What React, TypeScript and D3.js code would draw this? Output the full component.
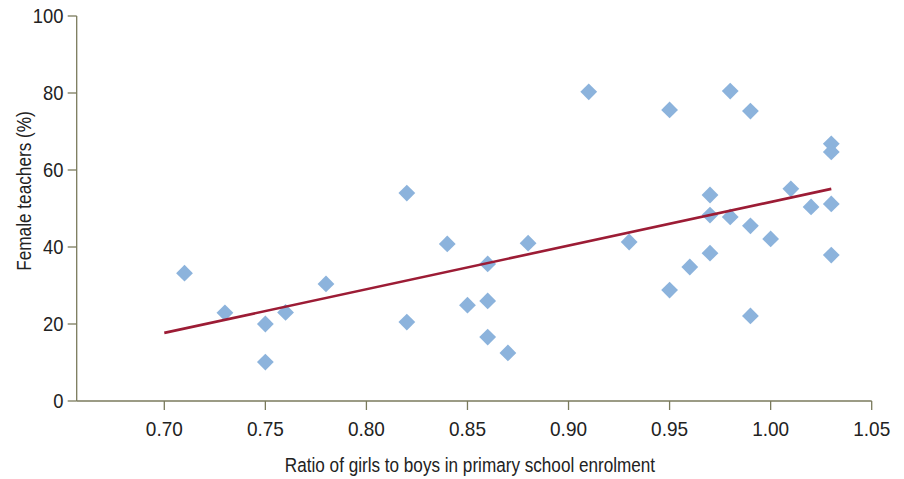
import React from "react";
import * as d3 from "d3";

const ratioGirlsBoys = [0.71, 0.73, 0.75, 0.75, 0.76, 0.78, 0.82, 0.82, 0.84, 0.85, 0.86, 0.86, 0.86, 0.87, 0.88, 0.91, 0.93, 0.95, 0.95, 0.96, 0.97, 0.97, 0.97, 0.98, 0.98, 0.99, 0.99, 0.99, 1.0, 1.01, 1.02, 1.03, 1.03, 1.03, 1.03];
const femaleTeachers = [33.2, 22.9, 20.0, 10.1, 23.0, 30.4, 54.0, 20.5, 40.8, 24.9, 35.6, 26.0, 16.6, 12.5, 41.0, 80.3, 41.3, 75.6, 28.8, 34.8, 53.5, 48.3, 38.4, 80.5, 47.8, 75.3, 45.5, 22.1, 42.1, 55.1, 50.4, 66.8, 64.7, 51.2, 37.9];
const trendX = [0.7, 1.03];
const trendY = [17.7, 55.1];
const xTicks = [0.7, 0.75, 0.8, 0.85, 0.9, 0.95, 1.0, 1.05];
const yTicks = [0, 20, 40, 60, 80, 100];

const FONT = "'Liberation Sans', Arial, sans-serif";
const AXIS = "#7a7a5c";

export default function App() {
  const W = 904, H = 479;
  const x = d3.scaleLinear().domain([0.7, 1.05]).range([164.3, 871.7]);
  const y = d3.scaleLinear().domain([0, 100]).range([401, 16]);
  const x0 = 76.7;
  const diamond = d3.symbol().type(d3.symbolDiamond2).size(180)() as string;
  const line = d3.line<number>().x((d, i) => x(trendX[i])).y((d) => y(d));

  return (
    <svg width={W} height={H} style={{ position: "absolute", left: 0, top: 0, background: "#fff" }} fontFamily={FONT}>
      <line x1={x0} x2={x0} y1={y(100)} y2={y(0)} stroke={AXIS} strokeWidth={1.3} />
      <line x1={x0} x2={x(1.05)} y1={y(0)} y2={y(0)} stroke={AXIS} strokeWidth={1.3} />
      {yTicks.map((t) => (
        <g key={"y" + t}>
          <line x1={x0 - 9} x2={x0} y1={y(t)} y2={y(t)} stroke={AXIS} strokeWidth={1.3} />
          <text transform={`translate(63.5,${y(t)}) scale(0.92,1)`} dy="0.36em" textAnchor="end" fontSize={20} fill="#222">{t}</text>
        </g>
      ))}
      {xTicks.map((t) => (
        <g key={"x" + t}>
          <line x1={x(t)} x2={x(t)} y1={y(0)} y2={y(0) + 9} stroke={AXIS} strokeWidth={1.3} />
          <text transform={`translate(${x(t)},436) scale(0.95,1)`} textAnchor="middle" fontSize={20} fill="#222">{t.toFixed(2)}</text>
        </g>
      ))}
      <text transform="translate(470,472) scale(0.857,1)" textAnchor="middle" fontSize={20} fill="#222">Ratio of girls to boys in primary school enrolment</text>
      <text transform="translate(31,191) rotate(-90) scale(0.86,1)" textAnchor="middle" fontSize={20} fill="#222">Female teachers (%)</text>
      {ratioGirlsBoys.map((v, i) => (
        <path key={i} d={diamond} transform={`translate(${x(v)},${y(femaleTeachers[i])})`} fill="#8cb3dc" />
      ))}
      <path d={line(trendY) as string} fill="none" stroke="#9c1c35" strokeWidth={2.6} />
    </svg>
  );
}
